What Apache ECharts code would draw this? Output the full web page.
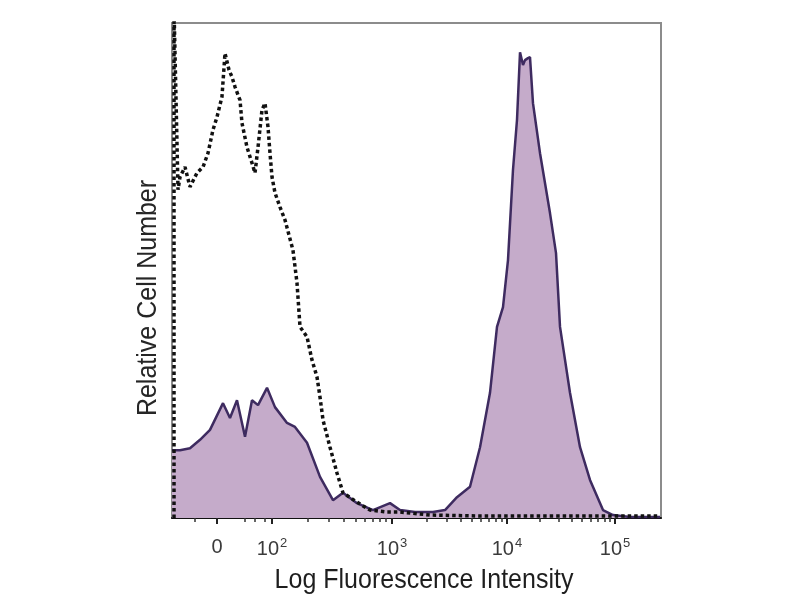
<!DOCTYPE html>
<html><head><meta charset="utf-8">
<script src="https://cdn.jsdelivr.net/npm/echarts@6/dist/echarts.min.js"></script>
<style>html,body{margin:0;padding:0;background:#fff}#c{width:800px;height:600px}</style>
</head><body><div id="c"></div>
<script>
// x values are in display (biexponential) units 0..1000; y is relative cell number 0..100
const stainedX = [0, 16.4, 36.8, 57.3, 77.7, 104.3, 118.6, 132.9, 149.3, 163.6, 175.9, 194.3, 210.6, 235.2, 251.5, 276.1, 302.7, 329.2, 349.7, 378.3, 411.0, 445.8, 466.3, 496.9, 533.7, 558.3, 582.8, 609.4, 629.9, 650.3, 664.6, 676.9, 687.1, 697.3, 705.5, 711.7, 717.8, 721.9, 728.0, 732.1, 738.2, 752.6, 773.0, 785.3, 793.5, 813.9, 834.4, 854.8, 881.4, 901.8, 936.6, 998];
const stainedY = [13.7, 13.7, 14.1, 15.8, 17.8, 23.2, 20.2, 23.8, 16.4, 23.8, 22.8, 26.3, 22.4, 19.2, 18.4, 15.2, 8.3, 3.6, 5.1, 3.0, 1.6, 3.0, 1.6, 1.2, 1.2, 1.6, 4.2, 6.3, 14.3, 25.3, 38.6, 42.6, 52.1, 70.3, 80.4, 94.1, 91.5, 92.5, 92.9, 93.1, 83.8, 73.7, 61.6, 53.5, 38.6, 25.3, 14.3, 7.7, 1.6, 0.6, 0.2, 0.2];
const controlX = [4.1, 4.1, 12.3, 16.4, 26.6, 36.8, 51.1, 63.4, 73.6, 83.8, 92.0, 102.2, 108.4, 116.6, 122.7, 128.8, 139.1, 143.1, 153.4, 163.6, 169.7, 175.9, 184.0, 190.2, 196.3, 200.4, 204.5, 210.6, 220.9, 231.1, 247.4, 255.6, 261.8, 276.1, 286.3, 296.5, 302.7, 308.8, 323.1, 337.4, 349.7, 378.3, 404.9, 439.7, 466.3, 527.6, 629.9, 773, 916, 998];
const controlY = [0, 103, 66.3, 68.9, 70.9, 66.9, 69.7, 70.9, 73.7, 78.4, 81.0, 85.1, 93.9, 90.5, 89.1, 87.1, 84.4, 79.8, 74.9, 71.7, 69.7, 74.9, 82.4, 83.8, 79.0, 73.7, 68.9, 65.7, 62.8, 60.2, 54.1, 47.5, 38.6, 36.6, 31.9, 28.5, 24.4, 19.8, 14.3, 9.1, 5.1, 3.2, 1.6, 1.2, 1.2, 0.6, 0.4, 0.4, 0.4, 0.4];
const majorTickValues = [92, 204.5, 450, 685, 906];
const majorTickLabels = ['0', '10{s|2}', '10{s|3}', '10{s|4}', '10{s|5}'];
const minorTickValues = [47, 149, 170, 190, 278, 321, 352, 376, 395, 411, 425, 438, 521, 562, 591, 613, 632, 648, 663, 675, 753, 791, 818, 838, 857, 871, 885, 896];
const xTitle = 'Log Fluorescence Intensity';
const yTitle = 'Relative Cell Number';

const zip = (xs, ys) => xs.map((x, i) => [x, ys[i]]);
const chart = echarts.init(document.getElementById('c'), null, {renderer: 'canvas'});
chart.setOption({
  animation: false,
  backgroundColor: '#fff',
  grid: {left: 172, right: 139, top: 23, bottom: 82, show: true, borderColor: '#8c8c8c', borderWidth: 2, backgroundColor: 'transparent'},
  xAxis: [{
    type: 'value', min: 0, max: 1000, position: 'bottom',
    splitLine: {show: false},
    axisLine: {show: true, lineStyle: {color: '#111', width: 2}},
    axisTick: {show: true, customValues: majorTickValues, length: 6, lineStyle: {color: '#222', width: 2}},
    axisLabel: {
      show: true, customValues: majorTickValues, margin: 19,
      formatter: v => { const i = majorTickValues.findIndex(t => Math.abs(t - v) < 0.01); return i >= 0 ? majorTickLabels[i] : ''; },
      fontFamily: 'Liberation Sans', fontSize: 20, color: '#3a3a3a',
      rich: {s: {fontFamily: 'Liberation Sans', fontSize: 13, color: '#3a3a3a', padding: [0, 0, 12, 1]}}
    }
  }, {
    type: 'value', min: 0, max: 1000, position: 'bottom',
    splitLine: {show: false}, axisLine: {show: false}, axisLabel: {show: false},
    axisTick: {show: true, customValues: minorTickValues, length: 4, lineStyle: {color: '#333', width: 1.5}}
  }],
  yAxis: {type: 'value', min: 0, max: 100, show: false, splitLine: {show: false}},
  graphic: [
    {type: 'text', x: 424, y: 580, scaleY: 1.12, style: {text: xTitle, font: '25px "Liberation Sans"', fill: '#1e1e1e', textAlign: 'center', textVerticalAlign: 'middle'}},
    {type: 'text', x: 148, y: 298, rotation: Math.PI / 2, scaleY: 1.1, style: {text: yTitle, font: '25px "Liberation Sans"', fill: '#262626', textAlign: 'center', textVerticalAlign: 'middle'}}
  ],
  series: [{
    type: 'line', xAxisIndex: 0, data: zip(stainedX, stainedY), symbol: 'none', smooth: false,
    lineStyle: {color: '#3e2b60', width: 2.5},
    areaStyle: {color: '#c5abca', opacity: 1}
  }, {
    type: 'line', xAxisIndex: 0, data: zip(controlX, controlY), symbol: 'none', smooth: false, clip: true,
    lineStyle: {color: '#111', width: 3.5, type: [3.5, 3]}
  }]
});
</script>
</body></html>
